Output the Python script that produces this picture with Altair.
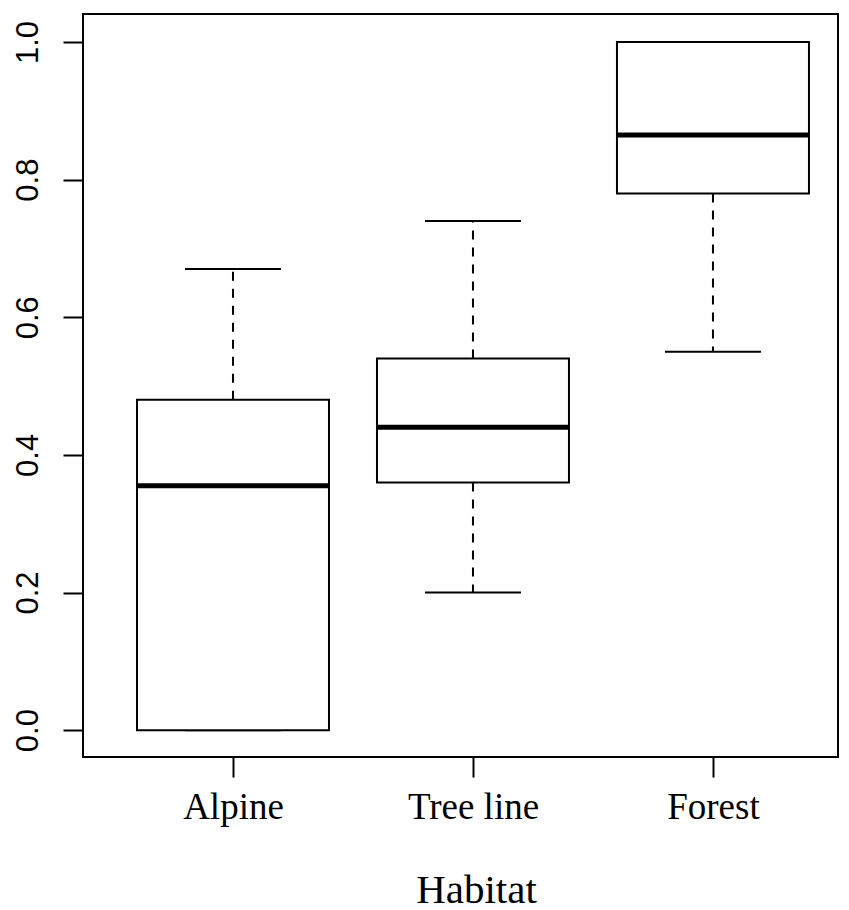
import altair as alt
import pandas as pd

habitats = ["Alpine", "Tree line", "Forest"]
lower_whisker = [0.0, 0.20, 0.55]
q1 = [0.0, 0.36, 0.78]
median = [0.355, 0.44, 0.865]
q3 = [0.48, 0.54, 1.0]
upper_whisker = [0.67, 0.74, 1.0]
y_ticks = [0.0, 0.2, 0.4, 0.6, 0.8, 1.0]

df = pd.DataFrame({
    "habitat": habitats,
    "pos": list(range(1, len(habitats) + 1)),
    "lower": lower_whisker,
    "q1": q1,
    "median": median,
    "q3": q3,
    "upper": upper_whisker,
})

label_expr = "[" + ",".join("'" + h + "'" for h in habitats) + "][datum.value - 1]"

xscale = alt.Scale(domain=[0.375, 3.521], nice=False, zero=False)
yscale = alt.Scale(domain=[-0.039, 1.0407], nice=False, zero=False)

xaxis = alt.Axis(
    values=[1, 2, 3], labelExpr=label_expr, title="Habitat",
    tickSize=20, tickWidth=2, tickColor="black", domain=False, grid=False,
    labelPadding=41, labelBaseline="alphabetic", labelFont="Liberation Serif",
    labelFontSize=37, labelColor="black", labelOverlap=False, labelFlush=False,
    titleFont="Liberation Serif", titleFontSize=41, titleFontWeight="normal",
    titleColor="black", titleY=145, titleX=393, titleAlign="center",
    titleBaseline="alphabetic",
)
yaxis = alt.Axis(
    values=y_ticks, format=".1f", title=None,
    tickSize=20, tickWidth=2, tickColor="black", domain=False, grid=False,
    labelAngle=270, labelAlign="center", labelBaseline="alphabetic",
    labelPadding=26, labelFont="Liberation Sans", labelFontSize=31,
    labelColor="black", labelOverlap=False, labelFlush=False,
)

base = alt.Chart(df).transform_calculate(
    left="datum.pos - 0.4",
    right="datum.pos + 0.4",
    capl="datum.pos - 0.2",
    capr="datum.pos + 0.2",
)

upper_w = base.mark_rule(color="black", strokeWidth=2, strokeDash=[9, 8]).encode(
    x=alt.X("pos:Q", scale=xscale, axis=xaxis),
    y=alt.Y("q3:Q", scale=yscale, axis=yaxis),
    y2="upper:Q",
)
lower_w = base.mark_rule(color="black", strokeWidth=2, strokeDash=[9, 8]).encode(
    x=alt.X("pos:Q", scale=xscale, axis=xaxis),
    y=alt.Y("q1:Q", scale=yscale, axis=yaxis),
    y2="lower:Q",
)
cap_u = base.mark_rule(color="black", strokeWidth=2).encode(
    x=alt.X("capl:Q", scale=xscale, axis=xaxis),
    x2="capr:Q",
    y=alt.Y("upper:Q", scale=yscale, axis=yaxis),
)
cap_l = base.mark_rule(color="black", strokeWidth=2).encode(
    x=alt.X("capl:Q", scale=xscale, axis=xaxis),
    x2="capr:Q",
    y=alt.Y("lower:Q", scale=yscale, axis=yaxis),
)
box = base.mark_rect(fill="white", stroke="black", strokeWidth=2).encode(
    x=alt.X("left:Q", scale=xscale, axis=xaxis),
    x2="right:Q",
    y=alt.Y("q1:Q", scale=yscale, axis=yaxis),
    y2="q3:Q",
)
med = base.mark_rule(color="black", strokeWidth=5).encode(
    x=alt.X("left:Q", scale=xscale, axis=xaxis),
    x2="right:Q",
    y=alt.Y("median:Q", scale=yscale, axis=yaxis),
)

chart = alt.layer(upper_w, lower_w, cap_u, cap_l, box, med).properties(
    width=755,
    height=743,
    autosize=alt.AutoSizeParams(type="none"),
    padding={"left": 83, "top": 14, "right": 11, "bottom": 153},
    background="white",
).configure_view(stroke="black", strokeWidth=2)

chart.save("out.html", embed_options={"renderer": "svg", "actions": False})
